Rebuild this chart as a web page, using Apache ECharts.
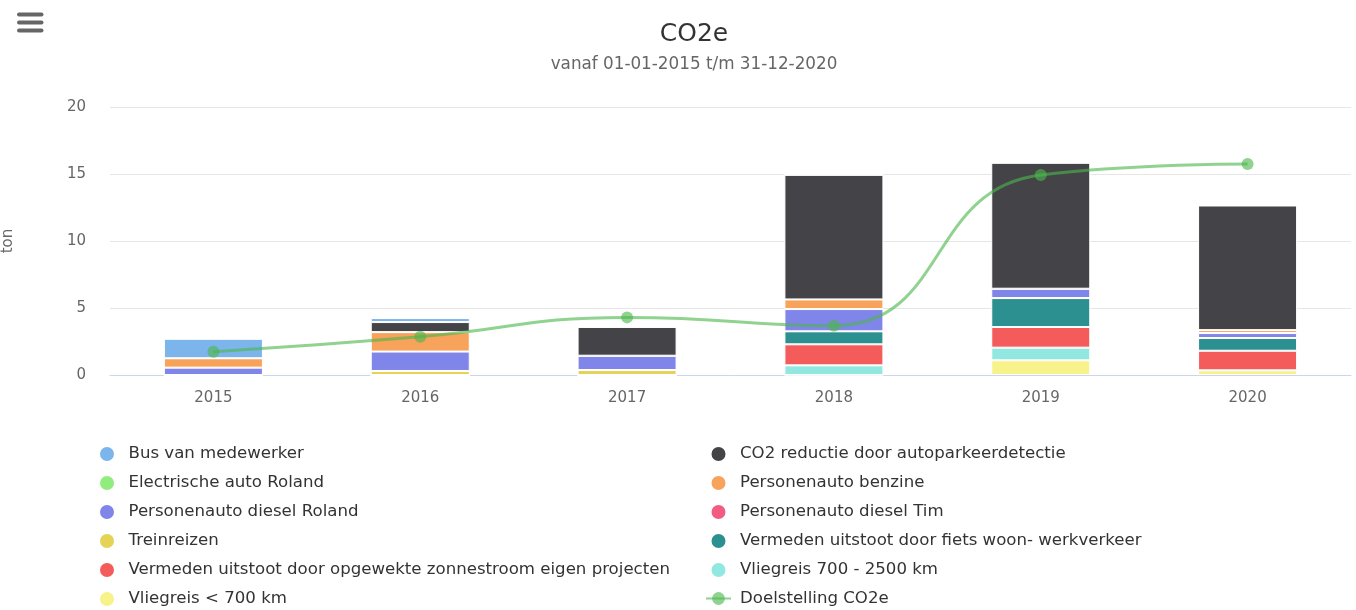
<!DOCTYPE html>
<html>
<head>
<meta charset="utf-8">
<script src="https://cdn.jsdelivr.net/npm/echarts@6/dist/echarts.min.js"></script>
<style>
  html, body { margin: 0; padding: 0; background: #fff; }
  #chart { width: 1356px; height: 610px; }
</style>
</head>
<body>
<div id="chart"></div>
<script>
// years on the x axis
const years = ['2015', '2016', '2017', '2018', '2019', '2020'];

// stacked bar values (ton CO2e)
const busMedewerker = [1.45, 0.3, 0, 0, 0, 0];
const co2Reductie = [0, 0.75, 2.15, 9.3, 9.4, 9.3];
const electrischeAuto = [0, 0, 0, 0, 0, 0];
const benzine = [0.7, 1.45, 0, 0.72, 0, 0.22];
const dieselRoland = [0.55, 1.45, 1.07, 1.66, 0.7, 0.37];
const dieselTim = [0, 0, 0, 0, 0, 0];
const treinreizen = [0, 0.3, 0.37, 0, 0, 0];
const fiets = [0, 0, 0, 0.97, 2.16, 0.95];
const zonnestroom = [0, 0, 0, 1.57, 1.54, 1.46];
const vlieg700tot2500 = [0, 0, 0, 0.72, 0.94, 0];
const vliegTot700 = [0, 0, 0, 0, 1.1, 0.35];

// target line
const doelstelling = [1.74, 2.86, 4.3, 3.68, 14.93, 15.75];

const FONT = 'DejaVu Sans';

// bottom of the stack first (echarts stacks in series order)
const barDefs = [
  ['Vliegreis < 700 km', vliegTot700, '#f7f28a'],
  ['Vliegreis 700 - 2500 km', vlieg700tot2500, '#91e8e1'],
  ['Vermeden uitstoot door opgewekte zonnestroom eigen projecten', zonnestroom, '#f45b5b'],
  ['Vermeden uitstoot door fiets woon- werkverkeer', fiets, '#2b908f'],
  ['Treinreizen', treinreizen, '#e4d354'],
  ['Personenauto diesel Tim', dieselTim, '#f15c80'],
  ['Personenauto diesel Roland', dieselRoland, '#8085e9'],
  ['Personenauto benzine', benzine, '#f7a35c'],
  ['Electrische auto Roland', electrischeAuto, '#90ed7d'],
  ['CO2 reductie door autoparkeerdetectie', co2Reductie, '#434348'],
  ['Bus van medewerker', busMedewerker, '#7cb5ec']
];

const series = barDefs.map(([name, data, color]) => ({
  name: name,
  type: 'bar',
  stack: 'co2',
  data: data,
  barWidth: 99,
  itemStyle: { color: color, borderColor: '#fff', borderWidth: 1 }
}));

series.push({
  name: 'Doelstelling CO2e',
  type: 'line',
  data: doelstelling,
  smooth: 0.5,
  symbol: 'circle',
  symbolSize: 12,
  lineStyle: { color: 'rgba(76,182,76,0.62)', width: 3 },
  itemStyle: { color: 'rgba(76,182,76,0.62)' },
  z: 5
});

const leftNames = [
  'Bus van medewerker',
  'Electrische auto Roland',
  'Personenauto diesel Roland',
  'Treinreizen',
  'Vermeden uitstoot door opgewekte zonnestroom eigen projecten',
  'Vliegreis < 700 km'
];
const rightNames = [
  'CO2 reductie door autoparkeerdetectie',
  'Personenauto benzine',
  'Personenauto diesel Tim',
  'Vermeden uitstoot door fiets woon- werkverkeer',
  'Vliegreis 700 - 2500 km',
  'Doelstelling CO2e'
];

function legendFor(names, left) {
  return {
    orient: 'vertical',
    left: left,
    top: 445,
    padding: 0,
    itemWidth: 25,
    itemHeight: 16,
    itemGap: 11,
    selectedMode: false,
    data: names.map(n => n === 'Doelstelling CO2e' ? { name: n } : { name: n, icon: 'circle' }),
    textStyle: { fontFamily: FONT, fontSize: 16.6, color: '#333', lineHeight: 16, padding: [0, 0, 0, 4] }
  };
}

const chart = echarts.init(document.getElementById('chart'));
chart.setOption({
  animation: false,
  backgroundColor: '#fff',
  title: [{
    text: 'CO2e',
    left: 689,
    top: 17,
    textAlign: 'center',
    textStyle: { fontFamily: FONT, fontSize: 25, fontWeight: 'normal', color: '#333' }
  }, {
    text: 'vanaf 01-01-2015 t/m 31-12-2020',
    left: 689,
    top: 51,
    textAlign: 'center',
    textStyle: { fontFamily: FONT, fontSize: 16.8, fontWeight: 'normal', color: '#666' }
  }],
  graphic: [0, 8, 16].map(dy => ({
    type: 'rect',
    shape: { x: 17, y: 12.5 + dy, width: 26.5, height: 4, r: 2 },
    style: { fill: '#666' }
  })),
  legend: [legendFor(leftNames, 98), legendFor(rightNames, 705)],
  grid: { left: 110, right: 5, top: 107, bottom: 235, containLabel: false, outerBoundsMode: 'none' },
  xAxis: {
    type: 'category',
    data: years,
    axisLine: { lineStyle: { color: '#ccd6eb', width: 1 } },
    axisTick: { show: false },
    axisLabel: { fontFamily: FONT, fontSize: 15, color: '#666', margin: 16 }
  },
  yAxis: {
    type: 'value',
    min: 0,
    max: 20,
    interval: 5,
    name: 'ton',
    nameLocation: 'middle',
    nameRotate: 90,
    nameGap: 94,
    nameTextStyle: { fontFamily: FONT, fontSize: 15, color: '#666' },
    axisLine: { show: false },
    axisTick: { show: false },
    splitLine: { lineStyle: { color: '#e6e6e6' } },
    axisLabel: { fontFamily: FONT, fontSize: 15, color: '#666', margin: 24 }
  },
  series: series
});
</script>
</body>
</html>
